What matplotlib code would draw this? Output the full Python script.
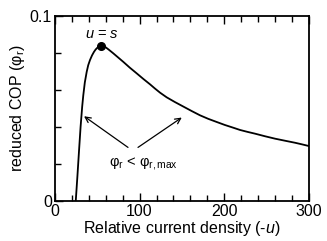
import matplotlib
matplotlib.use("Agg")
import matplotlib.pyplot as plt
from matplotlib.ticker import MultipleLocator, FixedLocator

plt.rcParams['font.family'] = ['Liberation Sans', 'DejaVu Sans']
plt.rcParams['mathtext.fontset'] = 'custom'
plt.rcParams['mathtext.rm'] = 'Liberation Sans'
plt.rcParams['mathtext.it'] = 'Liberation Sans:italic'

# curve
u_vals = [24.8, 26.8, 28.7, 30.5, 32.4, 33.7, 35.5, 37.7, 39.5, 41.6, 44.0, 46.3, 48.3,
          50.2, 52.7, 55.1, 57.5, 60.0, 64.0, 69.1, 75.0, 80.9, 88.5, 96.7, 104.5,
          112.4, 118.0, 124.2, 132.0, 141.5, 151.7, 161.5, 171.3, 181.0, 191.0, 200.5,
          210.6, 218.5, 227.0, 236.2, 248.0, 259.8, 271.5, 283.4, 291.0, 300.0]
phi_vals = [0.0, 0.0137, 0.0274, 0.0400, 0.0510, 0.0571, 0.0640, 0.0697, 0.0733, 0.0761,
            0.0786, 0.0805, 0.0818, 0.0827, 0.0833, 0.0836, 0.0834, 0.0830, 0.0816, 0.0797,
            0.0774, 0.0751, 0.0720, 0.0689, 0.0659, 0.0630, 0.0608, 0.0585, 0.0560, 0.0535,
            0.0510, 0.0486, 0.0463, 0.0444, 0.0427, 0.0411, 0.0396, 0.0384, 0.0374, 0.0364,
            0.0350, 0.0337, 0.0326, 0.0315, 0.0307, 0.0297]
peak_u, peak_phi = 55.1, 0.0836

# arrows (tail -> head)
arrow_left = ((86.4, 0.029), (34.6, 0.0458))
arrow_right = ((98.2, 0.029), (149.8, 0.0451))

fig = plt.figure(figsize=(3.27, 2.41), dpi=100)
ax = fig.add_axes([54.7/327, 1 - 201.2/241, (309.2-54.7)/327, (201.2-15.7)/241])

ax.plot(u_vals, phi_vals, color='black', lw=1.3)
ax.plot([peak_u], [peak_phi], 'o', color='black', ms=5.5)
ax.text(peak_u, 0.0862, r'$\it{u}$ = $\it{s}$', ha='center', va='bottom', fontsize=10.5)

for tail, head in (arrow_left, arrow_right):
    ax.annotate('', xy=head, xytext=tail,
                arrowprops=dict(arrowstyle='->', color='black', lw=0.9,
                                shrinkA=0, shrinkB=0, mutation_scale=10))

ax.text(105, 0.0204, 'φ$_\\mathregular{r}$ < φ$_\\mathregular{r,max}$',
        ha='center', va='center', fontsize=10.5)

ax.set_xlim(0, 300)
ax.set_ylim(0, 0.1)
ax.xaxis.set_major_locator(FixedLocator([0, 100, 200, 300]))
ax.xaxis.set_minor_locator(MultipleLocator(20))
ax.yaxis.set_major_locator(FixedLocator([0, 0.1]))
ax.yaxis.set_minor_locator(FixedLocator([0.02, 0.04, 0.06, 0.08]))
ax.set_xticklabels(['0', '100', '200', '300'])
ax.set_yticklabels(['0', '0.1'])
ax.tick_params(which='both', direction='in', top=True, right=False, labelsize=11.5,
               width=1.0)
ax.tick_params(which='major', length=6, pad=2)
ax.tick_params(which='minor', length=4)
for s in ax.spines.values():
    s.set_linewidth(1.3)

ax.set_xlabel('Relative current density (-$\\it{u}$)', fontsize=11.5, labelpad=0)
ax.set_ylabel('reduced COP (φ$_\\mathregular{r}$)', fontsize=11.5, labelpad=2)

fig.savefig('out.png', dpi=100)
